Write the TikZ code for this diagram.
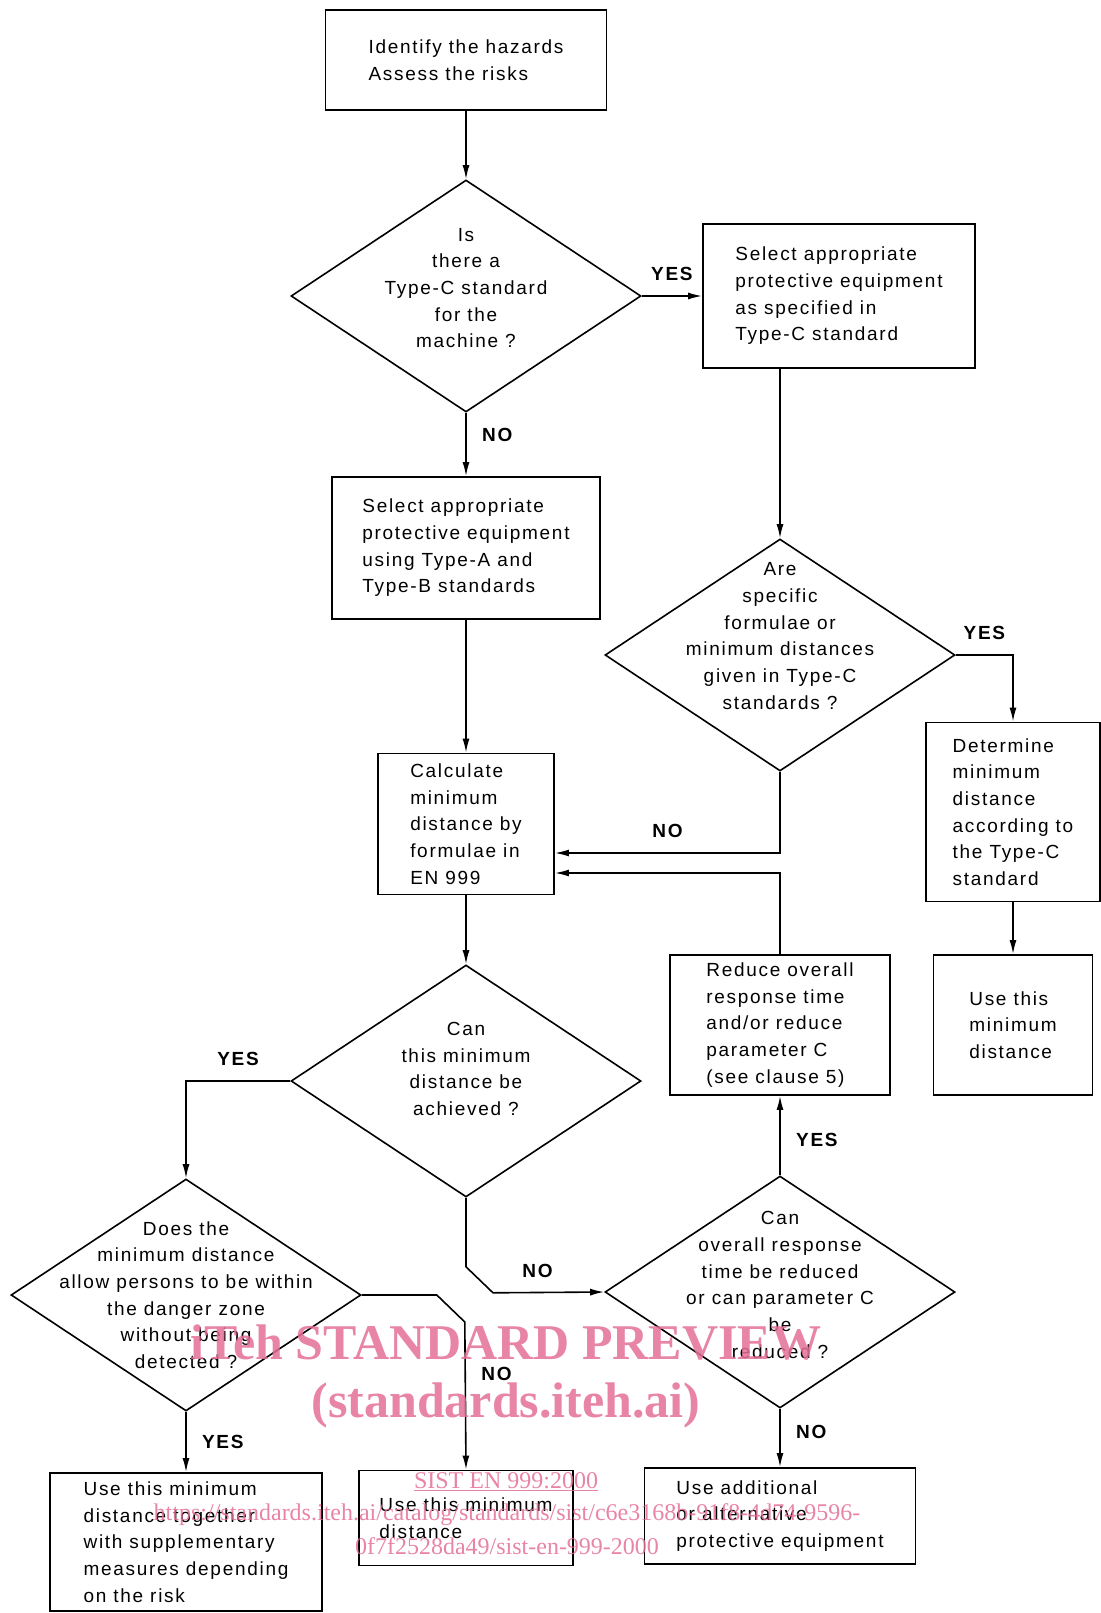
\documentclass[tikz,border=0pt]{standalone}
\usepackage{fontspec}
\setmainfont{Liberation Sans}[LetterSpace=9]
\newfontfamily\wmfont{Liberation Serif}
\usetikzlibrary{shapes.geometric,arrows.meta}
\definecolor{wmpink}{RGB}{228,110,150}

\begin{document}
\begin{tikzpicture}[x=1pt,y=-1pt,font=\fontsize{19}{26.7}\selectfont,
  box/.style={draw,line width=1.8pt,align=left,inner sep=0pt},
  dec/.style={diamond,draw,line width=1.6pt,inner sep=0pt,minimum width=350pt,minimum height=232pt},
  lbl/.style={font=\fontsize{19}{26.7}\selectfont\bfseries},
  arr/.style={-{Latex[length=14pt,width=7pt]},line width=1.6pt},
  wm/.style={text=wmpink,opacity=0.85}]
                \useasboundingbox (0,0) rectangle (1100,1613);

                \node[box,minimum width=281pt,minimum height=100pt] (hz) at (466,60) {Identify the hazards\\Assess the risks};
                \node[dec,label={[align=center,yshift=8pt]center:{Is\\there a\\Type-C standard\\for the\\machine ?}}] (qc) at (466,296) {};
                \node[box,minimum width=272pt,minimum height=144pt] (sc) at (839,296) {Select appropriate\\protective equipment\\as specified in\\Type-C standard};
                \node[box,minimum width=268pt,minimum height=142pt] (sa) at (466,548) {Select appropriate\\protective equipment\\using Type-A and\\Type-B standards};
                \node[dec,label={[align=center,yshift=19pt]center:{Are\\specific\\formulae or\\minimum distances\\given in Type-C\\standards ?}}] (qf) at (780,655) {};
                \node[box,minimum width=176pt,minimum height=141pt] (cm) at (466,824) {Calculate\\minimum\\distance by\\formulae in\\EN 999};
                \node[box,minimum width=174pt,minimum height=179pt] (dm) at (1013,812) {Determine\\minimum\\distance\\according to\\the Type-C\\standard};
                \node[box,minimum width=220pt,minimum height=140pt] (rd) at (780,1025) {Reduce overall\\response time\\and/or reduce\\parameter C\\(see clause 5)};
                \node[box,minimum width=159pt,minimum height=140pt] (ud) at (1013,1025) {Use this\\minimum\\distance};
                \node[dec,label={[align=center,yshift=12pt]center:{Can\\this minimum\\distance be\\achieved ?}}] (qa) at (466,1081) {};
                \node[dec,label={[align=center]center:{Does the\\minimum distance\\allow persons to be within\\the danger zone\\without being\\detected ?}}] (dz) at (186,1295) {};
                \node[dec,label={[align=center,yshift=7pt]center:{Can\\overall response\\time be reduced\\or can parameter C\\be\\reduced ?}}] (rt) at (780,1292) {};
                \node[box,minimum width=272pt,minimum height=138pt] (ut) at (186,1542) {Use this minimum\\distance together\\with supplementary\\measures depending\\on the risk};
                \node[box,minimum width=214pt,minimum height=95pt] (um) at (466,1518) {Use this minimum\\distance};
                \node[box,minimum width=271pt,minimum height=96pt] (ua) at (780,1516) {Use additional\\or alternative\\protective equipment};

                \draw[arr] (hz.south) to (qc.north);
                \draw[arr] (qc.east) to node[lbl,above=11pt] {YES} (sc.west);
                \draw[arr] (qc.south) to node[lbl,right=12pt,pos=0.35] {NO} (sa.north);
                \draw[arr] (sa.south) to (cm.north);
                \draw[arr] (qf.north |- sc.south) to (qf.north);

                \draw[arr] (qf.east) -- node[lbl,above=11pt] {YES} (qf.east -| dm.north) -- (dm.north);
                \draw[arr] (dm.south) to (ud.north);

                \coordinate (nj) at (780,853);
                \coordinate (rj) at (780,873);
                \draw[arr] (qf.south) -- (nj) -- node[lbl,above=11pt] {NO} (nj -| cm.east);
                \draw[arr] (rd.north) -- (rj) -- (rj -| cm.east);

                \draw[arr] (cm.south) to (qa.north);
                \draw[arr] (qa.west) -- node[lbl,above=11pt] {YES} (qa.west -| dz.north) -- (dz.north);
                \draw[arr] (qa.south) -- ++(0,69) -- ++(27,26) -- node[lbl,above=11pt,pos=0.4] {NO} (rt.west);

                \draw[arr] (rt.north) to node[lbl,right=12pt,pos=0.45] {YES} (rd.south);
                \draw[arr] (rt.south) to node[lbl,right=12pt,pos=0.4] {NO} (ua.north);

                \draw[arr] (dz.east) -- ++(75,0) -- ++(28,27) -- node[lbl,right=12pt,pos=0.35] {NO} (um.north);
                \draw[arr] (dz.south) to node[lbl,right=12pt] {YES} (ut.north);

                % watermark
                \node[wm,font=\fontsize{50}{50}\wmfont\bfseries] (wm1) at (506,1343) {iTeh STANDARD PREVIEW};
                \node[wm,font=\fontsize{50}{50}\wmfont\bfseries] (wm2) at (506,1405) {(standards.iteh.ai)};
                \node[wm,font=\fontsize{24}{24}\wmfont] (wm3) at (506,1482) {\underline{SIST EN 999:2000}};
                \node[wm,font=\fontsize{24}{24}\wmfont] (wm4) at (507,1515) {https://standards.iteh.ai/catalog/standards/sist/c6e3168b-91f8-4d74-9596-};
                \node[wm,font=\fontsize{24}{24}\wmfont] (wm5) at (507,1546) {0f7f2528da49/sist-en-999-2000};
            \end{tikzpicture}
\end{document}
